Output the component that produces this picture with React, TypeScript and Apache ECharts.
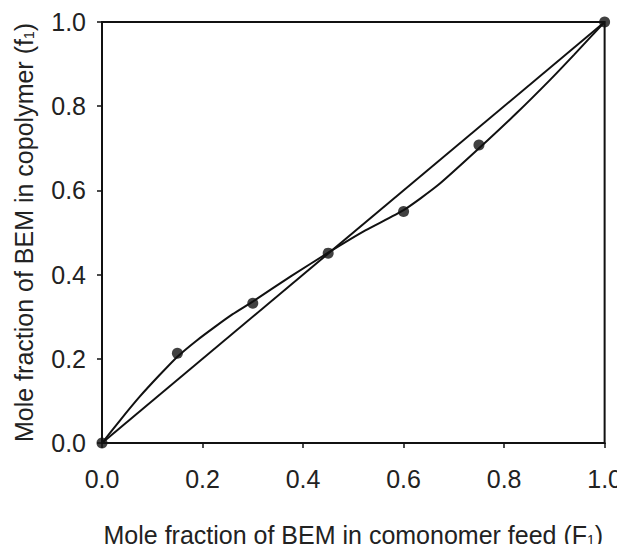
import React, { useEffect, useRef } from "react";
import * as echarts from "echarts";

// Experimental data: mole fraction of BEM in feed (F1) vs copolymer (f1)
const feedF1 = [0, 0.15, 0.3, 0.45, 0.6, 0.75, 1.0];
const copolymerF1 = [0, 0.213, 0.332, 0.451, 0.55, 0.708, 1.0];

// Fitted composition curve
const curveX = [0, 0.036, 0.075, 0.115, 0.15, 0.188, 0.226, 0.26, 0.3, 0.377, 0.45, 0.524, 0.6, 0.668, 0.75, 0.826, 0.891, 0.939, 1.0];
const curveY = [0, 0.054, 0.11, 0.162, 0.205, 0.243, 0.277, 0.306, 0.336, 0.397, 0.452, 0.505, 0.553, 0.612, 0.7, 0.785, 0.862, 0.922, 1.0];

// Ideal (azeotropic) diagonal
const diagX = [0, 1];
const diagY = [0, 1];

const FONT = "'Liberation Sans', Arial, sans-serif";
const INK = "#111";
const TEXT = "#222";

export default function App() {
  const ref = useRef<HTMLDivElement>(null);
  useEffect(() => {
    if (!ref.current) return;
    const chart = echarts.init(ref.current, undefined, { renderer: "svg" });
    const subStyle = { fontSize: 14, fontFamily: FONT, color: TEXT, verticalAlign: "bottom", padding: [10, 0, 0, 0] };
    const axisCommon = {
      type: "value" as const,
      min: 0,
      max: 1,
      interval: 0.2,
      splitLine: { show: false },
      axisLine: { show: true, lineStyle: { color: INK, width: 2 } },
      axisTick: { show: true, inside: false, length: 5, lineStyle: { color: INK, width: 1.5 } },
      axisLabel: {
        color: TEXT,
        fontSize: 25,
        fontFamily: FONT,
        formatter: (v: number) => v.toFixed(1),
      },
      nameLocation: "middle" as const,
    };
    chart.setOption({
      animation: false,
      backgroundColor: "#fff",
      grid: {
        left: 102,
        right: 17,
        top: 22,
        bottom: 100,
        show: true,
        borderColor: INK,
        borderWidth: 2,
        backgroundColor: "transparent",
      },
      xAxis: {
        ...axisCommon,
        axisLabel: { ...axisCommon.axisLabel, margin: 23 },
        name: "Mole fraction of BEM in comonomer feed (F{sub|1})",
        nameGap: 79,
        nameTextStyle: { color: TEXT, fontSize: 25, fontFamily: FONT, rich: { sub: subStyle } },
      },
      yAxis: {
        ...axisCommon,
        axisLabel: { ...axisCommon.axisLabel, margin: 16 },
        name: "Mole fraction of BEM in copolymer (f{sub|1})",
        nameGap: 66,
        nameTextStyle: { color: TEXT, fontSize: 25, fontFamily: FONT, rich: { sub: subStyle } },
      },
      series: [
        {
          type: "line",
          data: diagX.map((x, i) => [x, diagY[i]]),
          showSymbol: false,
          lineStyle: { color: INK, width: 2 },
          z: 2,
        },
        {
          type: "line",
          data: curveX.map((x, i) => [x, curveY[i]]),
          showSymbol: false,
          smooth: 0.2,
          lineStyle: { color: INK, width: 2 },
          z: 2,
        },
        {
          type: "scatter",
          data: feedF1.map((x, i) => [x, copolymerF1[i]]),
          symbol: "circle",
          symbolSize: 11,
          itemStyle: { color: INK },
          z: 3,
        },
      ],
    });
    return () => chart.dispose();
  }, []);
  return <div ref={ref} style={{ width: 625, height: 552, margin: -8 }} />;
}
